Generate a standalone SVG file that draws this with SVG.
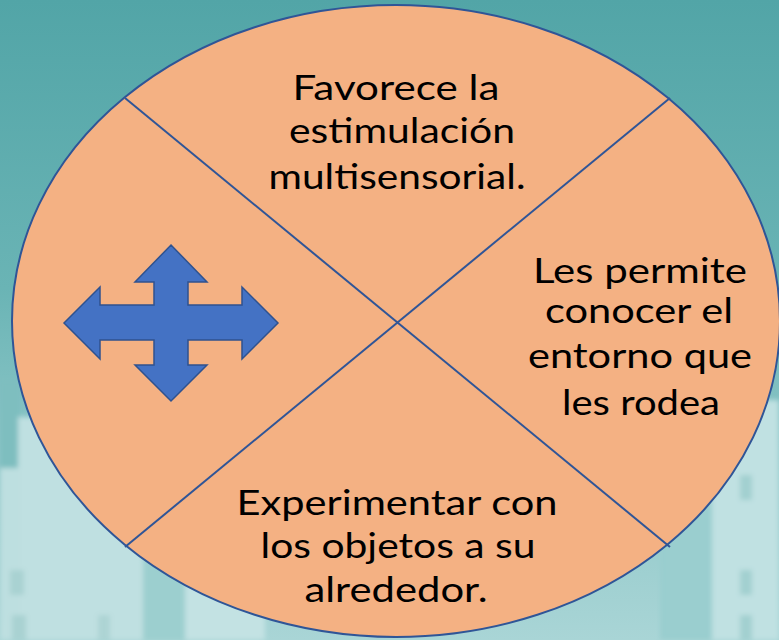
<svg xmlns="http://www.w3.org/2000/svg" width="779" height="640" viewBox="0 0 779 640">
  <defs>
    <linearGradient id="bg" x1="0" y1="0" x2="0" y2="1">
      <stop offset="0" stop-color="#52A5A7"/>
      <stop offset="0.45" stop-color="#6AB4B5"/>
      <stop offset="0.7" stop-color="#8CC6C7"/>
      <stop offset="1" stop-color="#A9D5D6"/>
    </linearGradient>
    <filter id="blur" x="-10%" y="-10%" width="120%" height="120%">
      <feGaussianBlur stdDeviation="2.5"/>
    </filter>
  </defs>
  <style>
    .shape { fill: #F4B183; stroke: #2F5597; stroke-width: 2; }
    .div { stroke: #2F5597; stroke-width: 2; fill: none; }
    .arrow { fill: #4472C4; stroke: #2F528F; stroke-width: 1.5; stroke-linejoin: miter; }
    .lbl { font-family: "Lato", "Open Sans", "DejaVu Sans", sans-serif; font-size: 34px; fill: #000; }
  </style>

  <!-- background scene -->
  <rect x="0" y="0" width="779" height="640" fill="url(#bg)"/>
  <g filter="url(#blur)">
    <rect x="0" y="380" width="20" height="90" fill="#7EBEBF"/>
    <rect x="18" y="417" width="125" height="223" fill="#BFE0E1"/>
    <rect x="0" y="468" width="20" height="172" fill="#BDDFE0"/>
    <rect x="143" y="560" width="42" height="80" fill="#9CCFCF"/>
    <rect x="185" y="580" width="80" height="60" fill="#C3E2E3"/>
    <rect x="10" y="570" width="14" height="25" fill="#A9D2D2"/>
    <rect x="12" y="615" width="14" height="25" fill="#A9D2D2"/>
    <rect x="98" y="615" width="12" height="25" fill="#ADD4D4"/>
    <rect x="660" y="440" width="60" height="200" fill="#9ACECF"/>
    <rect x="712" y="400" width="67" height="240" fill="#C0E1E2"/>
    <rect x="740" y="475" width="12" height="25" fill="#A3D0D0"/>
    <rect x="740" y="570" width="12" height="25" fill="#A3D0D0"/>
    <rect x="740" y="615" width="12" height="25" fill="#A3D0D0"/>
  </g>

  <!-- main ellipse node -->
  <g id="circle-node">
    <ellipse class="shape" cx="396" cy="321" rx="384" ry="316"/>
  </g>

  <!-- dividing lines -->
  <g id="connectors">
    <line class="div" x1="125" y1="98" x2="670" y2="547"/>
    <line class="div" x1="670" y1="98" x2="125" y2="547"/>
  </g>

  <!-- four-way arrow -->
  <g id="quad-arrow">
    <polygon class="arrow" points="171,245 207,282 188,282 188,305 242,305 242,287 278,323 242,359 242,340 188,340 188,365 207,365 171,401 135,365 154,365 154,340 100,340 100,359 64,323 100,287 100,305 154,305 154,282 135,282"/>
  </g>

  <g id="text-top">
    <text class="lbl" x="396" y="100" text-anchor="middle" textLength="207" lengthAdjust="spacingAndGlyphs">Favorece la</text>
    <text class="lbl" x="402" y="143" text-anchor="middle" textLength="226" lengthAdjust="spacingAndGlyphs">estimulación</text>
    <text class="lbl" x="397" y="189" text-anchor="middle" textLength="257" lengthAdjust="spacingAndGlyphs">multisensorial.</text>
  </g>

  <g id="text-right">
    <text class="lbl" x="640" y="283" text-anchor="middle" textLength="214" lengthAdjust="spacingAndGlyphs">Les permite</text>
    <text class="lbl" x="639" y="323" text-anchor="middle" textLength="188" lengthAdjust="spacingAndGlyphs">conocer el</text>
    <text class="lbl" x="640" y="368" text-anchor="middle" textLength="224" lengthAdjust="spacingAndGlyphs">entorno que</text>
    <text class="lbl" x="641" y="415" text-anchor="middle" textLength="158" lengthAdjust="spacingAndGlyphs">les rodea</text>
  </g>

  <g id="text-bottom">
    <text class="lbl" x="397" y="515" text-anchor="middle" textLength="321" lengthAdjust="spacingAndGlyphs">Experimentar con</text>
    <text class="lbl" x="398" y="558" text-anchor="middle" textLength="275" lengthAdjust="spacingAndGlyphs">los objetos a su</text>
    <text class="lbl" x="396" y="602" text-anchor="middle" textLength="183" lengthAdjust="spacingAndGlyphs">alrededor.</text>
  </g>
</svg>
